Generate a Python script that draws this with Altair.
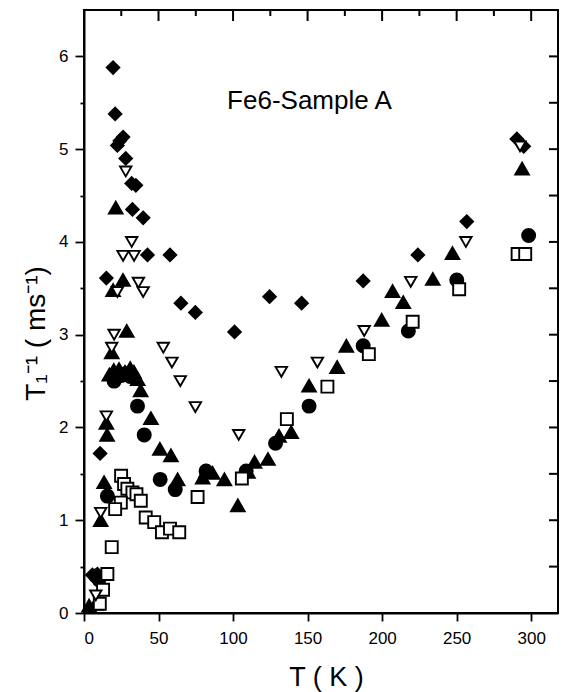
import altair as alt
import pandas as pd

# ---- data ----
diamond_T = [19.5, 20.9, 22.4, 24.0, 26.2, 28.0, 32.0, 34.8, 32.5, 39.7, 42.6, 57.7, 15.0, 65.0, 74.7,
             101.0, 124.5, 146.0, 187.3, 224.0, 256.8, 290.4, 295.0, 10.8, 5.6, 9.0]
diamond_v = [5.88, 5.38, 5.04, 5.09, 5.13, 4.90, 4.63, 4.61, 4.35, 4.26, 3.86, 3.86, 3.61, 3.34, 3.24,
             3.03, 3.41, 3.34, 3.58, 3.86, 4.22, 5.11, 5.03, 1.72, 0.41, 0.42]

tridown_T = [28.0, 32.0, 26.2, 33.6, 22.4, 36.5, 39.7, 20.2, 18.6, 15.0, 11.2, 7.9, 53.2, 59.0, 64.6,
             74.7, 103.8, 132.4, 156.6, 188.0, 219.2, 256.2, 292.5]
tridown_v = [4.76, 4.00, 3.85, 3.85, 3.46, 3.56, 3.46, 3.00, 2.86, 2.12, 1.08, 0.19, 2.86, 2.70, 2.50,
             2.22, 1.92, 2.60, 2.70, 3.04, 3.57, 4.00, 5.03]

triup_T = [21.3, 26.2, 19.5, 28.7, 18.6, 17.0, 20.0, 23.5, 27.5, 31.0, 33.5, 36.0, 38.0, 44.9, 15.0,
           15.5, 50.9, 58.3, 13.5, 62.8, 11.2, 79.6, 81.9, 86.3, 94.2, 103.2, 110.0, 114.4, 123.4,
           130.8, 139.0, 3.4, 7.9, 151.0, 169.8, 176.0, 199.7, 207.0, 214.2, 234.0, 247.2, 293.9]
triup_v = [4.37, 3.59, 3.48, 3.04, 2.81, 2.57, 2.62, 2.63, 2.60, 2.64, 2.60, 2.52, 2.40, 2.10, 2.05,
           1.92, 1.77, 1.70, 1.41, 1.44, 1.00, 1.46, 1.53, 1.51, 1.44, 1.16, 1.52, 1.63, 1.66,
           1.91, 1.95, 0.08, 0.10, 2.45, 2.65, 2.88, 3.16, 3.47, 3.35, 3.60, 3.88, 4.79]

circle_T = [20.2, 22.5, 25.0, 28.0, 31.0, 35.9, 40.4, 15.7, 51.1, 61.2, 81.9, 108.8, 128.5, 7.9, 10.0,
            151.0, 187.3, 217.6, 250.1, 298.3]
circle_v = [2.50, 2.57, 2.56, 2.58, 2.55, 2.23, 1.92, 1.26, 1.44, 1.33, 1.53, 1.53, 1.83, 0.40, 0.36,
            2.23, 2.88, 3.04, 3.59, 4.07]

square_T = [24.9, 26.9, 29.1, 32.5, 35.2, 38.1, 24.7, 20.9, 41.4, 47.1, 52.3, 57.7, 63.9, 18.6, 15.7,
            12.8, 10.6, 76.2, 105.9, 136.1, 163.3, 191.1, 220.5, 251.7, 290.9, 296.0]
square_v = [1.48, 1.39, 1.34, 1.30, 1.28, 1.21, 1.19, 1.12, 1.03, 0.98, 0.87, 0.91, 0.87, 0.71, 0.42,
            0.25, 0.10, 1.25, 1.45, 2.09, 2.44, 2.79, 3.14, 3.49, 3.87, 3.87]

series_names = ["up", "circle", "diamond", "square", "down"]
series_shapes = ["triangle-up", "circle", "diamond", "square", "triangle-down"]
series_fills = ["black", "black", "black", "white", "white"]
series_sizes = [185, 130, 135, 110, 200]

annotation_text = "Fe6-Sample A"
annotation_T = [96.0]
annotation_v = [5.43]

x_ticks = [0, 25, 50, 75, 100, 125, 150, 175, 200, 225, 250, 275, 300]
y_ticks = [0, 0.5, 1, 1.5, 2, 2.5, 3, 3.5, 4, 4.5, 5, 5.5, 6]

# ---- build tables ----
rows = []
for name, Ts, vs in [("up", triup_T, triup_v), ("circle", circle_T, circle_v),
                     ("diamond", diamond_T, diamond_v), ("square", square_T, square_v),
                     ("down", tridown_T, tridown_v)]:
    for t, v in zip(Ts, vs):
        rows.append({"T": t, "v": v, "series": name})
df = pd.DataFrame(rows)
top_major_df = pd.DataFrame({"tx": [t for t in x_ticks if t % 50 == 0]})
top_minor_df = pd.DataFrame({"tx": [t for t in x_ticks if t % 50 != 0]})
yt_df = pd.DataFrame({"ty": y_ticks})

FONT = "Liberation Sans"
W, H = 474, 603
xscale = alt.Scale(domain=[0, 318], nice=False, zero=False)
yscale = alt.Scale(domain=[0, 6.5], nice=False, zero=False)

common = dict(grid=False, domainColor="black", tickColor="black", domainWidth=2, tickWidth=1.8,
              labelFont=FONT, labelFontSize=17, labelColor="black", titleFont=FONT,
              titleColor="black", titleFontWeight="normal")

x_axis = alt.Axis(orient="bottom", values=x_ticks, tickSize=8, labelPadding=9,
                  labelExpr="datum.value % 50 === 0 ? format(datum.value, 'd') : ''",
                  title="T ( K )", titleFontSize=27, titleX=242, titleY=72,
                  titleBaseline="alphabetic", **common)
y_axis = alt.Axis(orient="left", values=y_ticks,
                  tickSize={"condition": {"test": "datum.value % 1 === 0", "value": 9}, "value": 4},
                  labelExpr="datum.value % 1 === 0 ? format(datum.value, 'd') : ''", labelPadding=7,
                  title="T₁⁻¹ ( ms⁻¹)", titleFontSize=28, titleAngle=270, titleX=-40, titleY=323,
                  titleBaseline="alphabetic", titleAlign="center", **common)

points = alt.Chart(df).mark_point(filled=True, stroke="black", strokeWidth=1.9, opacity=1).encode(
    x=alt.X("T:Q", scale=xscale, axis=x_axis),
    y=alt.Y("v:Q", scale=yscale, axis=y_axis),
    shape=alt.Shape("series:N", scale=alt.Scale(domain=series_names, range=series_shapes), legend=None),
    fill=alt.Fill("series:N", scale=alt.Scale(domain=series_names, range=series_fills), legend=None),
    size=alt.Size("series:N", scale=alt.Scale(domain=series_names, range=series_sizes), legend=None),
)

ann_df = pd.DataFrame({"T": annotation_T, "v": annotation_v, "label": [annotation_text]})
ann = alt.Chart(ann_df).mark_text(align="left", baseline="alphabetic", font=FONT, fontSize=26,
                                  color="black").encode(
    x=alt.X("T:Q", scale=xscale),
    y=alt.Y("v:Q", scale=yscale),
    text="label:N",
)

# inward ticks on the top and right frame edges (drawn as rules placed by the scales)
top_major = alt.Chart(top_major_df).mark_rule(color="black", strokeWidth=2).encode(
    x=alt.X("tx:Q", scale=xscale), y=alt.value(1), y2=alt.value(11))
top_minor = alt.Chart(top_minor_df).mark_rule(color="black", strokeWidth=2).encode(
    x=alt.X("tx:Q", scale=xscale), y=alt.value(1), y2=alt.value(6))
right_ticks = alt.Chart(yt_df).mark_rule(color="black", strokeWidth=2).encode(
    y=alt.Y("ty:Q", scale=yscale), x=alt.value(W - 9), x2=alt.value(W - 1))

chart = alt.layer(points, ann, top_major, top_minor, right_ticks).properties(
    width=W, height=H,
    padding={"left": 84, "top": 10, "right": 10, "bottom": 79},
    autosize=alt.AutoSizeParams(type="none"),
    background="white",
).configure_view(stroke="black", strokeWidth=2)

chart.save("out.html", embed_options={"renderer": "svg", "actions": False})
